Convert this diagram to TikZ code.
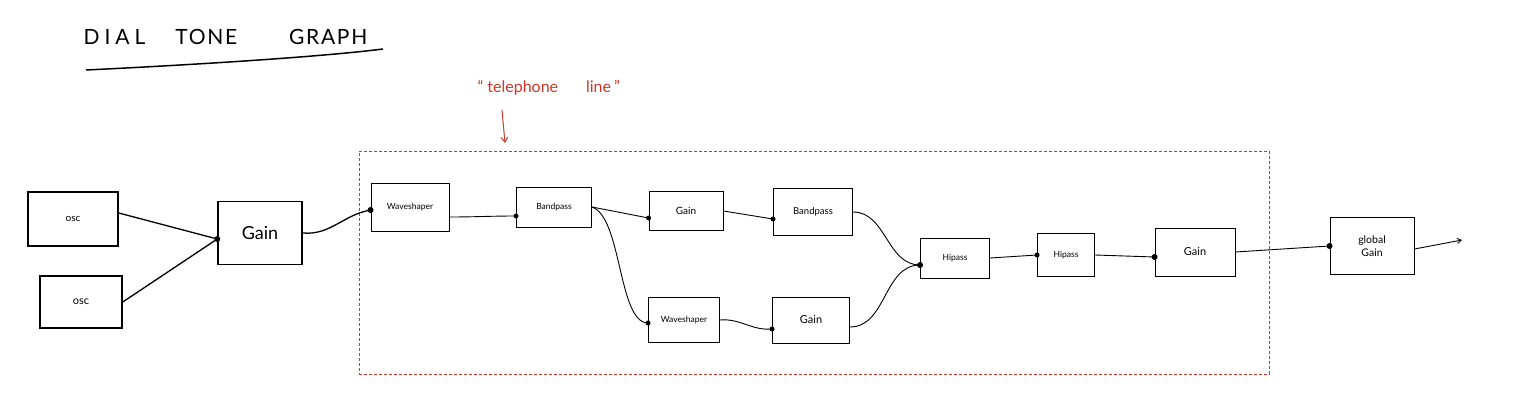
\documentclass[tikz,border=0pt]{standalone}
\usepackage{fontspec}
\setmainfont{Lato}
\newfontfamily\titlefont[LetterSpace=8]{Lato}
\usetikzlibrary{arrows.meta}
\definecolor{sketchred}{RGB}{205,55,40}
\begin{document}
\begin{tikzpicture}[x=1pt,y=-1pt,
  box/.style={draw, line width=0.9pt, rectangle, inner sep=0pt, font=\fontsize{8.5}{9}\selectfont},
  bigbox/.style={box, line width=1.5pt},
  wire/.style={line width=0.9pt},
  bigwire/.style={line width=1.3pt},
  indot/.style={fill, circle, inner sep=0pt, minimum size=6pt},
  dashbox/.style={draw=sketchred, line width=1pt, dash pattern=on 3pt off 2pt}
]
\useasboundingbox (0,0) rectangle (1520,417);

% title
\node[anchor=west, font=\titlefont\fontsize{21}{22}\selectfont] (title) at (80,37) {D\hspace{5pt}I\hspace{5pt}A\hspace{5pt}L\hspace{30pt}TONE\hspace{52pt}GRAPH};
\coordinate (u1) at (86,70);
\coordinate (u2) at (383,49);
\draw[line width=1.5pt] (u1) .. controls (190,65) and (320,57) .. (u2);

% telephone line label
\node[text=sketchred, font=\fontsize{16}{17}\selectfont, anchor=west] (tel) at (474,88) {“\hspace{4pt}telephone\hspace{28pt}line\hspace{3pt}”};
\coordinate (arrS) at (502,110);
\coordinate (arrE) at (505,143);
\draw[sketchred, line width=1pt, -{Straight Barb[length=5pt,width=7pt]}] (arrS) -- (arrE);

% dashed region
\node[dashbox, minimum width=910pt, minimum height=223pt, inner sep=0pt] (region) at (814,262.5) {};

% nodes
\node[bigbox, minimum width=90pt, minimum height=54pt, font=\fontsize{10}{10}\selectfont] (osc1) at (73,219) {osc};
\node[bigbox, minimum width=82pt, minimum height=52pt, font=\fontsize{11}{11}\selectfont] (osc2) at (81,302) {osc};
\node[bigbox, minimum width=84pt, minimum height=63pt, font=\fontsize{18}{18}\selectfont] (gain1) at (260,233) {Gain};

\node[box, minimum width=78pt, minimum height=48pt] (wav1) at (410,207) {Waveshaper};
\node[box, minimum width=75pt, minimum height=40pt] (bp1) at (554,207) {Bandpass};
\node[box, minimum width=74pt, minimum height=39pt, font=\fontsize{10}{11}\selectfont] (gain2) at (686,211) {Gain};
\node[box, minimum width=79pt, minimum height=47pt, font=\fontsize{9.5}{10}\selectfont] (bp2) at (813,212) {Bandpass};
\node[box, minimum width=71pt, minimum height=45pt] (wav2) at (684,320) {Waveshaper};
\node[box, minimum width=77pt, minimum height=46pt, font=\fontsize{11}{12}\selectfont] (gain3) at (811,320) {Gain};
\node[box, minimum width=69pt, minimum height=40pt] (hp1) at (955,258) {Hipass};
\node[box, minimum width=57pt, minimum height=43pt] (hp2) at (1066,255) {Hipass};
\node[box, minimum width=80pt, minimum height=48pt, font=\fontsize{11}{12}\selectfont] (gain4) at (1195,252) {Gain};
\node[box, minimum width=84pt, minimum height=57pt, align=center, font=\fontsize{10.5}{13}\selectfont] (gg) at (1372,246) {global\\Gain};
\coordinate (out) at (1462,240);

% connectors
\draw[bigwire] (osc1.east) ++(0,-6) -- ([yshift=-6pt]gain1.west);
\draw[bigwire] (osc2.east) -- ([yshift=-6pt]gain1.west);
\draw[bigwire] (gain1.east) to[out=-5,in=190] ([yshift=-3pt]wav1.west);
\draw[wire] ([yshift=-10pt]wav1.east) to[out=0,in=180] ([yshift=-9pt]bp1.west);
\draw[wire] (bp1.east) -- ([yshift=-7pt]gain2.west);
\draw[wire] (bp1.east) .. controls +(30,10) and +(-30,0) .. ([yshift=-3pt]wav2.west);
\draw[wire] (gain2.east) -- ([yshift=-7pt]bp2.west);
\draw[wire] (wav2.east) to[out=5,in=185] ([yshift=-9pt]gain3.west);
\draw[wire] (bp2.east) to[out=0,in=180] ([yshift=-7pt]hp1.west);
\draw[wire] ([yshift=-7pt]gain3.east) to[out=0,in=180] ([yshift=-7pt]hp1.west);
\draw[wire] (hp1.east) -- (hp2.west);
\draw[wire] (hp2.east) -- ([yshift=-5pt]gain4.west);
\draw[wire] (gain4.east) -- (gg.west);
\draw[wire, -{Straight Barb[length=4pt,width=5pt]}] ([yshift=-3pt]gg.east) -- (out);

% input dots
\node[indot] at ([yshift=-6pt]gain1.west) {};
\node[indot] at ([yshift=-3pt]wav1.west) {};
\node[indot, minimum size=5pt] at ([yshift=-9pt]bp1.west) {};
\node[indot, minimum size=5pt] at ([yshift=-7pt]gain2.west) {};
\node[indot, minimum size=5pt] at ([yshift=-7pt]bp2.west) {};
\node[indot, minimum size=5pt] at ([yshift=-3pt]wav2.west) {};
\node[indot, minimum size=5pt] at ([yshift=-9pt]gain3.west) {};
\node[indot] at ([yshift=-7pt]hp1.west) {};
\node[indot, minimum size=5pt] at (hp2.west) {};
\node[indot] at ([yshift=-5pt]gain4.west) {};
\node[indot] at (gg.west) {};
\end{tikzpicture}
\end{document}
